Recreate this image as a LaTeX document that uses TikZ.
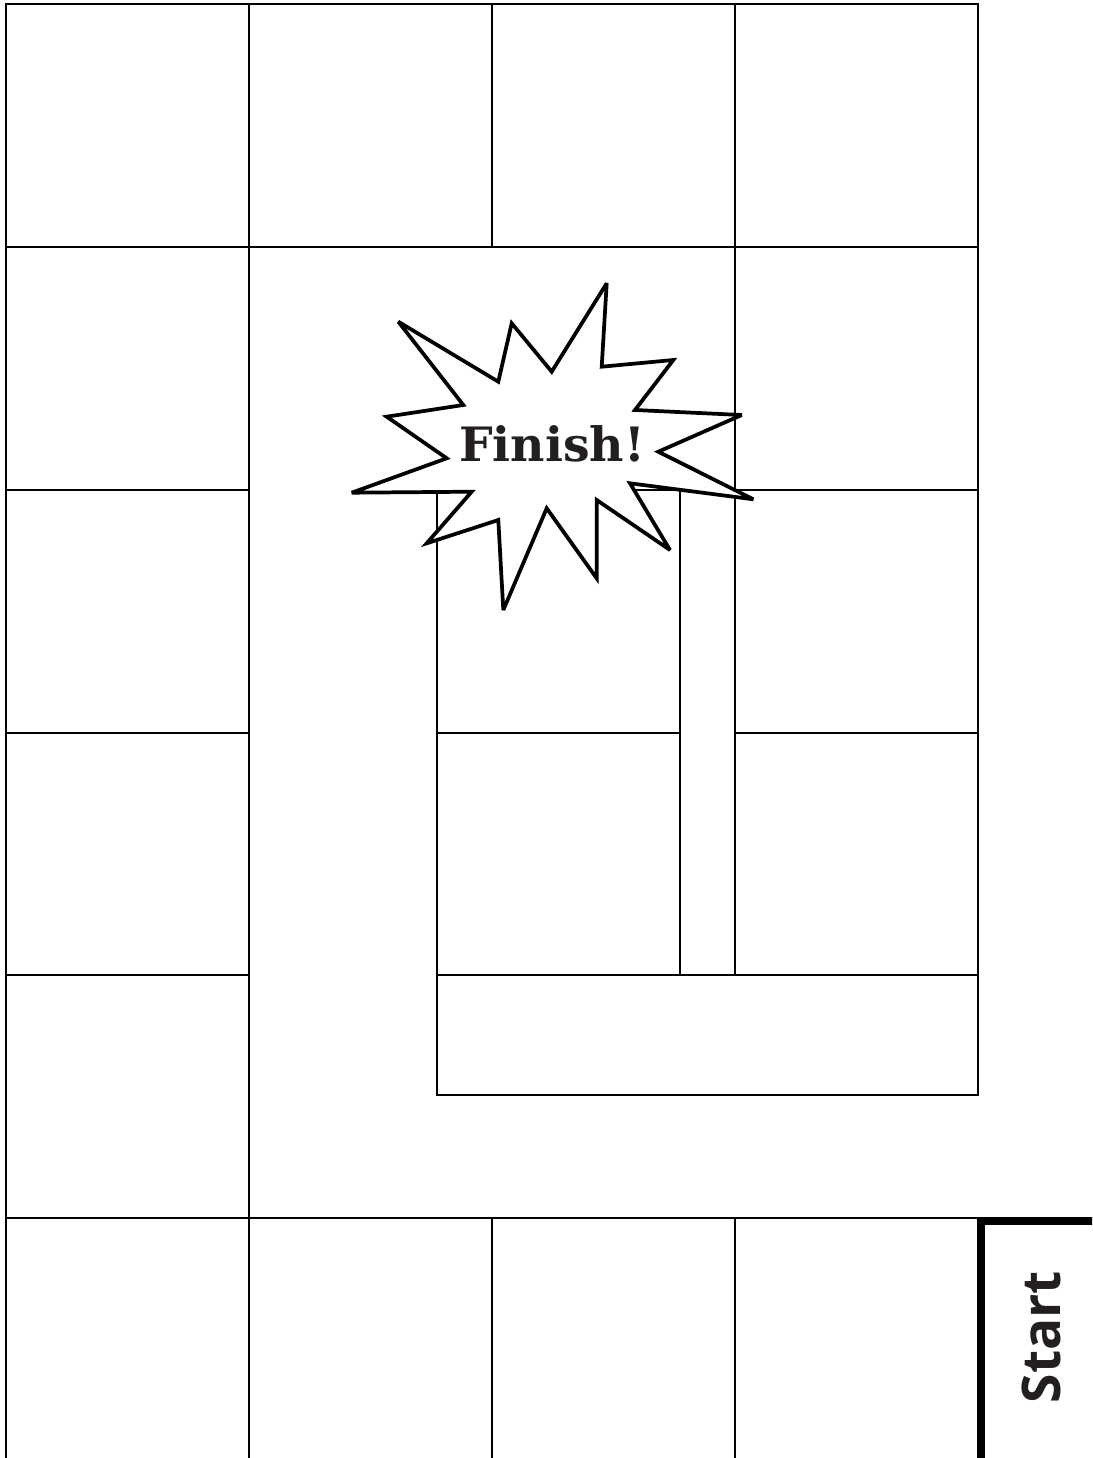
\documentclass[tikz,border=0pt]{standalone}
\usepackage{fontspec}
\newfontfamily\finishfont{DejaVu Serif}
\newfontfamily\startfont{Open Sans}
\definecolor{inkgray}{HTML}{231F20}
\tikzset{cell/.style={draw=black,line width=1.9pt},
  burst/.style={draw=black,fill=white,line width=2.8pt,line join=miter,miter limit=4}}

\begin{document}
\begin{tikzpicture}[x=.75pt,y=-.75pt,line width=1.9pt]
\clip (0,0) rectangle (1092,1458);
\draw[cell] (6,4) rectangle (249,247);
\draw[cell] (249,4) rectangle (492,247);
\draw[cell] (492,4) rectangle (735,247);
\draw[cell] (735,4) rectangle (978,247);
\draw[cell] (6,247) rectangle (249,490);
\draw[cell] (6,490) rectangle (249,733);
\draw[cell] (6,733) rectangle (249,975);
\draw[cell] (6,975) rectangle (249,1218);
\draw[cell] (735,247) rectangle (978,490);
\draw[cell] (735,490) rectangle (978,733);
\draw[cell] (735,733) rectangle (978,975);
\draw[cell] (437,490) rectangle (680,733);
\draw[cell] (437,733) rectangle (680,975);
\draw[cell] (680,490) rectangle (735,975);
\draw[cell] (437,975) rectangle (978,1095);
\draw[cell] (6,1218) rectangle (249,1480);
\draw[cell] (249,1218) rectangle (492,1480);
\draw[cell] (492,1218) rectangle (735,1480);
\draw[cell] (735,1218) rectangle (978,1480);
\draw[line width=6pt] (981,1221) rectangle (1110,1480);
\node[text=inkgray,rotate=90,inner sep=0pt,font=\startfont\bfseries\fontsize{40}{44}\selectfont] (start) at (1041,1337) {Start};
\draw[burst] (606.7,283.3) -- (601.7,366.7) -- (673.3,360) -- (635,410) -- (741.7,415) -- (658.3,451.7) -- (753.3,499.3) -- (630,483.3) -- (670,550) -- (596.7,500) -- (596.7,578.3) -- (546.7,508.3) -- (503.3,610) -- (498.3,520) -- (426.7,543.3) -- (471.7,491.7) -- (351.7,492.7) -- (446.7,458.3) -- (386.7,416.7) -- (463.3,405) -- (398.3,321.7) -- (498.3,381.7) -- (511.7,323.3) -- (551.7,371.7) -- cycle;
\node[text=inkgray,inner sep=0pt,font=\finishfont\bfseries\fontsize{35.5}{40}\selectfont] (finish) at (552,444) {Finish!};
\end{tikzpicture}
\end{document}
